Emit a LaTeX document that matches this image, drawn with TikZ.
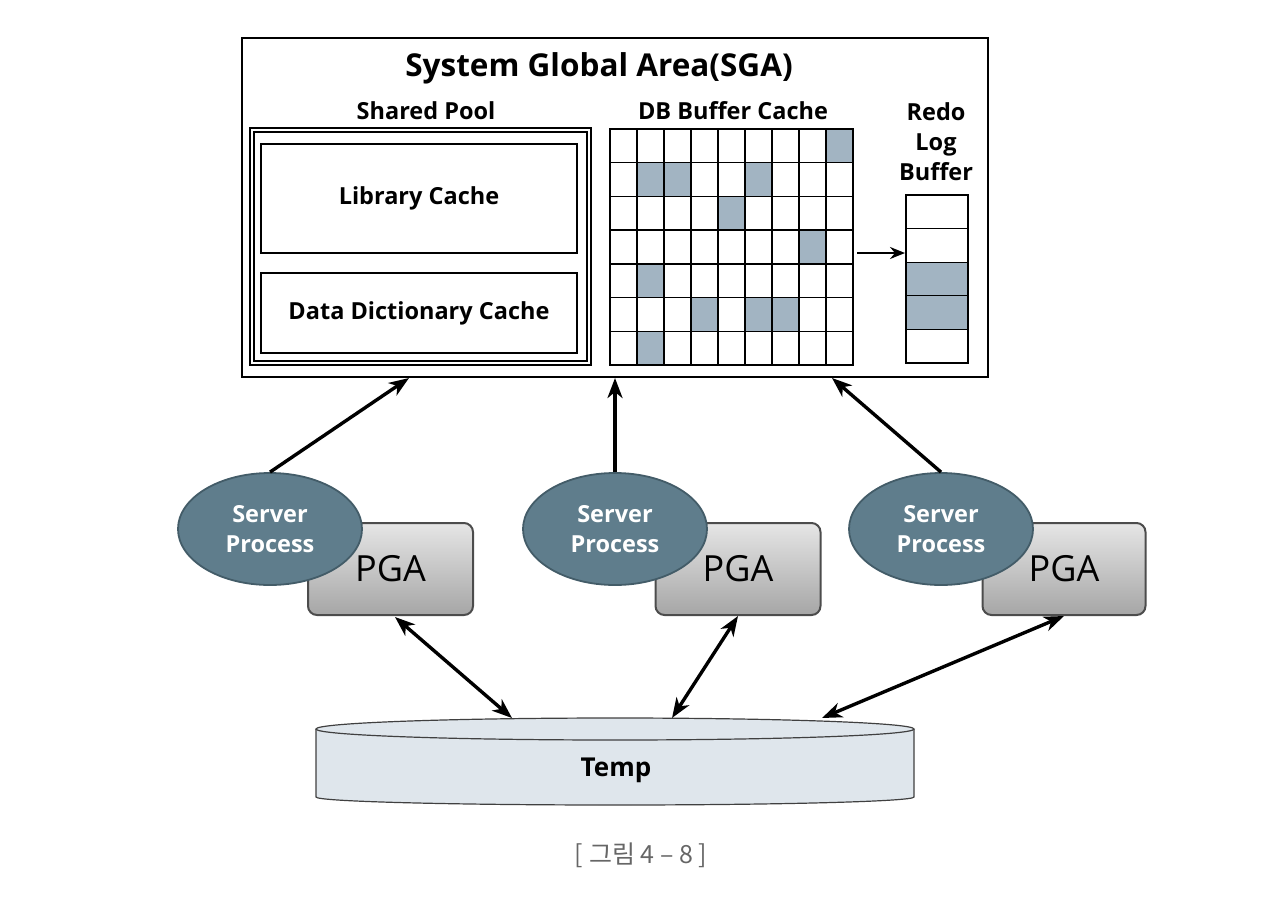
\documentclass[tikz,border=0pt]{standalone}
\usepackage{fontspec}
\setmainfont{Open Sans}
\newfontfamily\krfont{Noto Sans CJK KR}
\usetikzlibrary{arrows.meta,positioning,shapes.geometric}
\definecolor{cellblue}{HTML}{A2B4C2}
\definecolor{procfill}{HTML}{5F7D8C}
\definecolor{procline}{HTML}{435C68}
\definecolor{tempfill}{HTML}{DFE6EC}
\tikzset{
    sga-box/.style = {draw=black, fill=white, line width=2.2pt, rectangle, inner sep=0pt},
    pool-box/.style = {draw=black, double, double distance=2.5pt, line width=2pt, inner sep=0pt},
    cache-box/.style = {draw=black, fill=white, line width=2pt, inner sep=0pt, font=\bfseries\fontsize{23.5}{28}\selectfont},
    title-text/.style = {font=\bfseries\fontsize{31.5}{36}\selectfont},
    label-text/.style = {font=\bfseries\fontsize{23.5}{30}\selectfont, align=center},
    grid-line/.style = {draw=black, line width=1.3pt},
    process-ellipse/.style = {ellipse, draw=procline, fill=procfill, line width=1.8pt, inner sep=0pt, text=white, align=center, font=\bfseries\fontsize{23.5}{30}\selectfont},
    pga-box/.style = {draw=black!70, line width=2pt, rounded corners=9pt, top color=black!10, bottom color=black!35, inner sep=0pt, font=\fontsize{36}{40}\selectfont},
    link-arrow/.style = {line width=3.4pt, -{Stealth[length=20pt, width=15pt, inset=6pt]}},
    both-arrow/.style = {line width=3.4pt, {Stealth[length=20pt, width=15pt, inset=6pt]}-{Stealth[length=20pt, width=15pt, inset=6pt]}},
    flow-arrow/.style = {line width=2.4pt, -{Stealth[length=15pt, width=12pt, inset=5pt]}},
}

\begin{document}
\begin{tikzpicture}[x=1pt, y=-1pt]
\useasboundingbox (0,0) rectangle (1266,916);
% SGA and its parts
\node[sga-box, minimum width=746pt, minimum height=339pt] (sga) at (615,207.5) {};
\node[title-text] (sgatitle) at (599,68) {System Global Area(SGA)};
\node[pool-box, minimum width=337pt, minimum height=233pt] (pool) at (420.5,246.5) {};
\node[label-text] (pooltitle) at (426,111) {Shared Pool};
\node[cache-box, minimum width=316pt, minimum height=109pt] (libcache) at (419,198.5) {Library Cache};
\node[cache-box, minimum width=316pt, minimum height=80pt] (ddcache) at (419,313) {Data Dictionary Cache};
% buffer cache grid
\node[label-text] (buftitle) at (733,111) {DB Buffer Cache};
\foreach \c/\r in {9/1,2/2,3/2,6/2,5/3,8/4,2/5,4/6,6/6,7/6,2/7}
    \fill[cellblue] ({610+27*(\c-1)},{129+236/7*(\r-1)}) rectangle ++(27,{236/7});
\foreach \i in {1,...,8}
    \draw[grid-line] ({610+27*\i},129) -- ++(0,236);
\foreach \i in {1,...,6}
    \draw[grid-line] (610,{129+236/7*\i}) -- ++(243,0);
\node[draw, line width=2pt, minimum width=243pt, minimum height=236pt, inner sep=0pt] (buf) at (731.5,247) {};
% redo log buffer
\node[label-text] (redotitle) at (936,142) {Redo\\Log\\Buffer};
\fill[cellblue] (906,262.2) rectangle (968,329.4);
\foreach \i in {1,...,4}
    \draw[grid-line] (906,{195+33.6*\i}) -- ++(62,0);
\node[draw, line width=2pt, minimum width=62pt, minimum height=168pt, inner sep=0pt] (redo) at (937,279) {};
\coordinate (bufout) at (857,253);
\draw[flow-arrow] (bufout) -- (bufout -| redo.west);
% server processes with PGA
\node[pga-box, minimum width=165pt, minimum height=92pt] (pga1) at (390.5,569) {\raisebox{-5pt}{PGA}};
\node[process-ellipse, minimum width=184pt, minimum height=112pt] (sp1) at (270,529) {Server\\Process};
\node[pga-box, minimum width=165pt, minimum height=92pt] (pga2) at (738,569) {\raisebox{-5pt}{PGA}};
\node[process-ellipse, minimum width=184pt, minimum height=112pt] (sp2) at (615,529) {Server\\Process};
\node[pga-box, minimum width=163pt, minimum height=92pt] (pga3) at (1064,569) {\raisebox{-5pt}{PGA}};
\node[process-ellipse, minimum width=184pt, minimum height=112pt] (sp3) at (941,529) {Server\\Process};
% temp tablespace
\filldraw[fill=tempfill, draw=black!75, line width=1.2pt] (316,729) -- (316,797)
    arc[start angle=180, end angle=360, x radius=299pt, y radius=8pt] -- (914,729);
\filldraw[fill=tempfill, draw=black!75, line width=1.2pt] (615,729) ellipse[x radius=299pt, y radius=11pt];
\node[font=\bfseries\fontsize{26}{30}\selectfont] (temp) at (616,770) {Temp};
% connectors
\coordinate (sgaA) at (409,378);
\coordinate (sgaB) at (615,378);
\coordinate (sgaC) at (832,378);
\draw[link-arrow] (sp1.north) -- (sgaA);
\draw[link-arrow] (sp2.north) -- (sgaB);
\draw[link-arrow] (sp3.north) -- (sgaC);
\coordinate (pgaA) at (395,617);
\coordinate (tempA) at (512,718);
\coordinate (tempB) at (672,718);
\coordinate (tempC) at (822,718);
\draw[both-arrow] (pgaA) -- (tempA);
\draw[both-arrow] (pga2.south) -- (tempB);
\draw[both-arrow] (pga3.south) -- (tempC);
% caption
\node[text=black!60, font=\krfont\fontsize{25}{30}\selectfont] (caption) at (641,855) {[ 그림 4 – 8 ]};
\end{tikzpicture}
\end{document}
